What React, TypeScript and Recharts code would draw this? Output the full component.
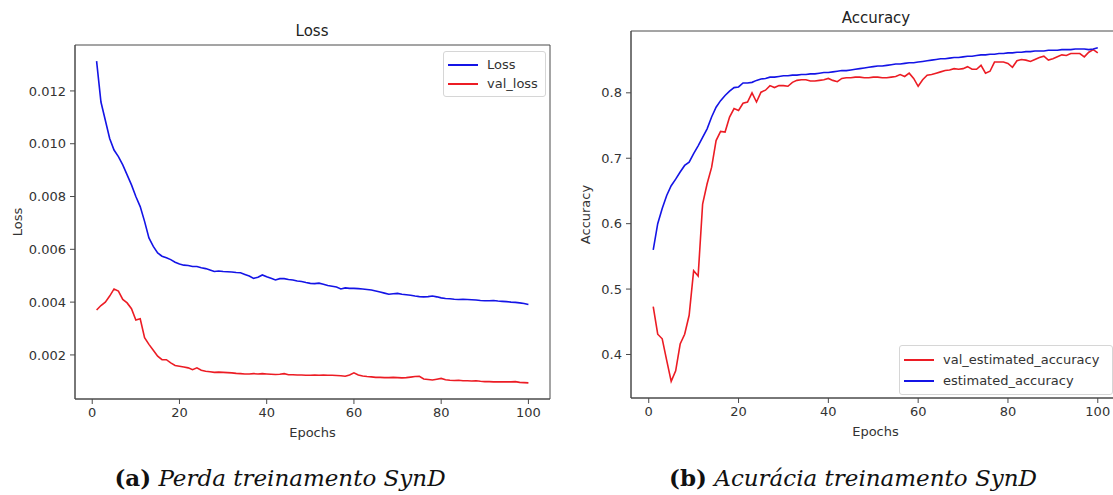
import React from "react";
import { LineChart, Line, XAxis, YAxis, Legend, ReferenceArea } from "recharts";

const epochs = Array.from({ length: 100 }, (_, i) => i + 1);

const trainLoss = [
  0.01313, 0.01158, 0.01089, 0.0102, 0.00976, 0.00951, 0.0092, 0.00882, 0.00844, 0.008,
  0.00762, 0.00706, 0.00643, 0.00611, 0.00586, 0.00574, 0.00568, 0.00561, 0.00551, 0.00544,
  0.0054, 0.00539, 0.00535, 0.00535, 0.0053, 0.00527, 0.00522, 0.00516, 0.00518, 0.00516,
  0.00515, 0.00514, 0.00512, 0.00511, 0.00505, 0.00499, 0.0049, 0.00494, 0.00503, 0.00496,
  0.0049, 0.00484, 0.00489, 0.00489, 0.00486, 0.00484, 0.0048, 0.00478, 0.00474, 0.00471,
  0.0047, 0.00472, 0.00468, 0.00463, 0.0046, 0.00457, 0.0045, 0.00454, 0.00452, 0.00452,
  0.00451, 0.0045, 0.00448, 0.00446, 0.00442, 0.00438, 0.00434, 0.0043, 0.00432, 0.00433,
  0.0043, 0.00428, 0.00426, 0.00423, 0.00421, 0.0042, 0.00421, 0.00423, 0.0042, 0.00416,
  0.00414, 0.00413, 0.00411, 0.0041, 0.00411, 0.0041, 0.00409, 0.00408, 0.00406, 0.00405,
  0.00405, 0.00406, 0.00404, 0.00403, 0.00402, 0.004, 0.00399, 0.00397, 0.00395, 0.00391,
];
const valLoss = [
  0.0037, 0.00387, 0.004, 0.00423, 0.0045, 0.00442, 0.0041, 0.00397, 0.00375, 0.00332,
  0.00337, 0.00265, 0.0024, 0.00218, 0.00195, 0.00182, 0.00182, 0.0017, 0.0016, 0.00157,
  0.00154, 0.00151, 0.00144, 0.00151, 0.00142, 0.00138, 0.00136, 0.00134, 0.00135, 0.00134,
  0.00133, 0.00132, 0.0013, 0.00129, 0.00128, 0.00128, 0.00129, 0.00128, 0.00129, 0.00128,
  0.00127, 0.00126, 0.00127, 0.00129, 0.00125, 0.00125, 0.00124, 0.00124, 0.00123, 0.00123,
  0.00124, 0.00123, 0.00124, 0.00123, 0.00123, 0.00122, 0.00121, 0.00119, 0.00124, 0.00132,
  0.00124, 0.0012, 0.00118, 0.00117, 0.00115, 0.00115, 0.00114, 0.00114, 0.00115, 0.00114,
  0.00113, 0.00114, 0.00116, 0.00118, 0.00119, 0.00109, 0.00107, 0.00105, 0.00108, 0.00111,
  0.00106, 0.00104, 0.00103, 0.00104, 0.00102, 0.00102, 0.00101, 0.00102, 0.001, 0.00099,
  0.00099, 0.00098, 0.00098, 0.00098, 0.00098, 0.00098, 0.00099, 0.00096, 0.00095, 0.00094,
];

const trainAcc = [
  0.56, 0.6, 0.623, 0.643, 0.658, 0.668, 0.679, 0.689, 0.694, 0.707,
  0.719, 0.732, 0.745, 0.763, 0.778, 0.788, 0.796, 0.8025, 0.808, 0.809,
  0.815, 0.815, 0.816, 0.819, 0.821, 0.822, 0.824, 0.824, 0.825, 0.826,
  0.826, 0.827, 0.827, 0.828, 0.828, 0.829, 0.829, 0.83, 0.831, 0.831,
  0.832, 0.833, 0.834, 0.834, 0.835, 0.836, 0.837, 0.838, 0.839, 0.84,
  0.841, 0.841, 0.842, 0.843, 0.844, 0.844, 0.845, 0.846, 0.846, 0.847,
  0.848, 0.849, 0.85, 0.851, 0.852, 0.852, 0.853, 0.854, 0.854, 0.855,
  0.856, 0.856, 0.857, 0.858, 0.858, 0.859, 0.859, 0.86, 0.86, 0.861,
  0.861, 0.862, 0.862, 0.863, 0.863, 0.864, 0.864, 0.864, 0.865, 0.865,
  0.865, 0.866, 0.866, 0.866, 0.867, 0.867, 0.867, 0.866, 0.867, 0.869,
];
const valAcc = [
  0.473, 0.431, 0.424, 0.391, 0.359, 0.375, 0.416, 0.431, 0.46, 0.528,
  0.52, 0.63, 0.661, 0.686, 0.727, 0.741, 0.74, 0.763, 0.776, 0.773,
  0.784, 0.786, 0.8, 0.786, 0.801, 0.804, 0.811, 0.808, 0.811, 0.811,
  0.81, 0.816, 0.819, 0.82, 0.82, 0.818, 0.818, 0.819, 0.82, 0.822,
  0.819, 0.817, 0.822, 0.823, 0.823, 0.824, 0.824, 0.823, 0.823, 0.824,
  0.824, 0.823, 0.823, 0.824, 0.825, 0.828, 0.825, 0.83, 0.822, 0.81,
  0.82, 0.827, 0.828, 0.83, 0.832, 0.834, 0.835, 0.837, 0.836, 0.837,
  0.84, 0.836, 0.836, 0.842, 0.83, 0.833, 0.847, 0.847, 0.847, 0.845,
  0.839, 0.849, 0.851, 0.85, 0.848, 0.851, 0.854, 0.856, 0.85, 0.852,
  0.855, 0.858, 0.857, 0.86, 0.86, 0.86, 0.855, 0.862, 0.866, 0.861,
];

const epochTicks = [0, 20, 40, 60, 80, 100];
const lossTicks = [0.002, 0.004, 0.006, 0.008, 0.01, 0.012];
const accTicks = [0.4, 0.5, 0.6, 0.7, 0.8];

const lossData = epochs.map((epoch, i) => ({ epoch, Loss: trainLoss[i], val_loss: valLoss[i] }));
const accData = epochs.map((epoch, i) => ({
  epoch,
  val_estimated_accuracy: valAcc[i],
  estimated_accuracy: trainAcc[i],
}));

const FONT = "'DejaVu Sans', sans-serif";
const AXIS = "#4a4a4a";
const TXT = "#333";
const BLUE = "#1414e6";
const RED = "#ec1c24";

// matplotlib default 5% margins
const xDomain = [1 - 0.05 * 99, 100 + 0.05 * 99];
function padded(vals: number[]) {
  const lo = Math.min(...vals), hi = Math.max(...vals);
  const m = (hi - lo) * 0.05;
  return [lo - m, hi + m];
}
const lossDomain = padded([...trainLoss, ...valLoss]);
const accDomain = padded([...trainAcc, ...valAcc]);

function boxLegend(order: string[], w: number, rowH: number) {
  return ({ payload }: any) => {
    const items = order.map((n) => (payload || []).find((p: any) => p.value === n)).filter(Boolean);
    return (
      <div style={{
        width: w, boxSizing: "border-box", padding: "3px 0 3px 4px",
        border: "1px solid #d6d6d6", borderRadius: 3, background: "rgba(255,255,255,0.85)",
        fontFamily: FONT, fontSize: 13, color: TXT,
      }}>
        {items.map((p: any) => (
          <div key={p.value} style={{ display: "flex", alignItems: "center", height: rowH }}>
            <span style={{ width: 30, height: 2, background: p.color, marginRight: 9 }} />
            <span>{p.value}</span>
          </div>
        ))}
      </div>
    );
  };
}

const tickStyle = { fontSize: 13, fill: TXT, fontFamily: FONT };
const labelStyle = { fontSize: 13, fill: TXT, fontFamily: FONT };
const captionStyle = {
  position: "absolute" as const, top: 463, width: 460, textAlign: "center" as const,
  fontFamily: "'DejaVu Serif', serif", fontSize: 23, lineHeight: "30px", color: "#111",
};

export default function App() {
  return (
    <div style={{ position: "absolute", left: 0, top: 0, width: 1113, height: 495, overflow: "hidden", background: "#fff" }}>
      {/* panel (a) */}
      <div style={{ position: "absolute", left: 0, top: 0 }}>
        <LineChart width={560} height={440} data={lossData} margin={{ top: 45, right: 10, bottom: 1, left: 15 }}>
          <XAxis dataKey="epoch" type="number" domain={xDomain} ticks={epochTicks} allowDataOverflow
            height={40} stroke={AXIS} tick={tickStyle} tickLine={{ stroke: AXIS }} tickSize={5} tickMargin={4}
            label={{ value: "Epochs", position: "insideBottom", offset: 2, style: labelStyle }} />
          <YAxis type="number" domain={lossDomain} ticks={lossTicks} allowDataOverflow
            width={60} stroke={AXIS} tick={tickStyle} tickLine={{ stroke: AXIS }} tickSize={5} tickMargin={4}
            tickFormatter={(v) => v.toFixed(3)}
            label={{ value: "Loss", angle: -90, position: "insideLeft", offset: 2, style: { ...labelStyle, textAnchor: "middle" } }} />
          {/* axes frame */}
          <ReferenceArea x1={xDomain[0]} x2={xDomain[1]} y1={lossDomain[0]} y2={lossDomain[1]}
            fill="none" stroke={AXIS} strokeWidth={1} ifOverflow="visible" />
          <Legend layout="vertical" align="center" verticalAlign="middle"
            wrapperStyle={{ top: 51, left: 443, width: 103, height: "auto" }}
            content={boxLegend(["Loss", "val_loss"], 103, 19)} />
          <Line dataKey="Loss" name="Loss" stroke={BLUE} strokeWidth={1.6} dot={false} type="linear" isAnimationActive={false} />
          <Line dataKey="val_loss" name="val_loss" stroke={RED} strokeWidth={1.6} dot={false} type="linear" isAnimationActive={false} />
        </LineChart>
      </div>
      <div style={{ position: "absolute", left: 212, top: 23, width: 200, textAlign: "center", fontFamily: FONT, fontSize: 15, lineHeight: "16px", color: "#222" }}>Loss</div>

      {/* panel (b) */}
      <div style={{ position: "absolute", left: 560, top: 0 }}>
        <LineChart width={570} height={440} data={accData} margin={{ top: 31, right: 10, bottom: 2, left: 11 }}>
          <XAxis dataKey="epoch" type="number" domain={xDomain} ticks={epochTicks} allowDataOverflow
            height={40} stroke={AXIS} tick={tickStyle} tickLine={{ stroke: AXIS }} tickSize={5} tickMargin={4}
            label={{ value: "Epochs", position: "insideBottom", offset: 2, style: labelStyle }} />
          <YAxis type="number" domain={accDomain} ticks={accTicks} allowDataOverflow
            width={60} stroke={AXIS} tick={tickStyle} tickLine={{ stroke: AXIS }} tickSize={5} tickMargin={4}
            tickFormatter={(v) => v.toFixed(1)}
            label={{ value: "Accuracy", angle: -90, position: "insideLeft", offset: 14, style: { ...labelStyle, textAnchor: "middle" } }} />
          <ReferenceArea x1={xDomain[0]} x2={xDomain[1]} y1={accDomain[0]} y2={accDomain[1]}
            fill="none" stroke={AXIS} strokeWidth={1} ifOverflow="visible" />
          <Legend layout="vertical" align="center" verticalAlign="middle"
            wrapperStyle={{ top: 345, left: 339, width: 214, height: "auto" }}
            content={boxLegend(["val_estimated_accuracy", "estimated_accuracy"], 214, 21)} />
          <Line dataKey="val_estimated_accuracy" name="val_estimated_accuracy" stroke={RED} strokeWidth={1.6} dot={false} type="linear" isAnimationActive={false} />
          <Line dataKey="estimated_accuracy" name="estimated_accuracy" stroke={BLUE} strokeWidth={1.6} dot={false} type="linear" isAnimationActive={false} />
        </LineChart>
      </div>
      <div style={{ position: "absolute", left: 776, top: 10, width: 200, textAlign: "center", fontFamily: FONT, fontSize: 15, lineHeight: "16px", color: "#222" }}>Accuracy</div>

      {/* captions */}
      <div style={{ ...captionStyle, left: 50 }}>
        <b>(a)</b> <i>Perda treinamento SynD</i>
      </div>
      <div style={{ ...captionStyle, left: 623 }}>
        <b>(b)</b> <i>Acurácia treinamento SynD</i>
      </div>
    </div>
  );
}
